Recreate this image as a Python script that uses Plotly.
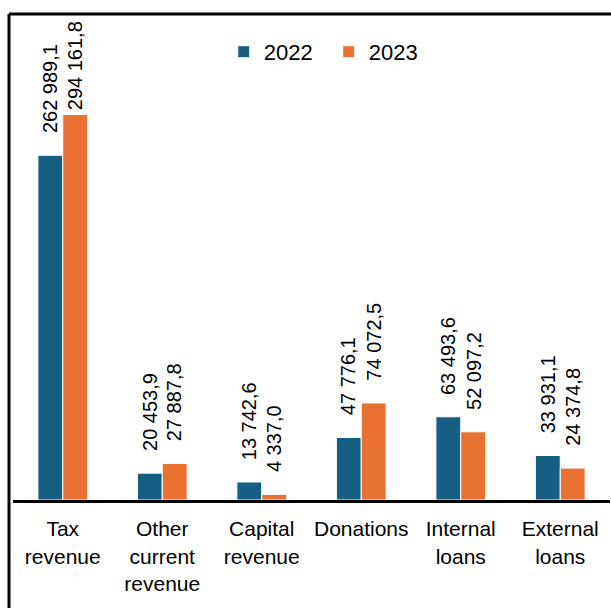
import plotly.graph_objects as go

# Revenue and financing sources, 2022 vs 2023
categories = ["Tax<br>revenue", "Other<br>current<br>revenue", "Capital<br>revenue",
              "Donations", "Internal<br>loans", "External<br>loans"]
values_2022 = [262989.1, 20453.9, 13742.6, 47776.1, 63493.6, 33931.1]
values_2023 = [294161.8, 27887.8, 4337.0, 74072.5, 52097.2, 24374.8]
series_names = ["2022", "2023"]

COLOR_2022 = "#156082"
COLOR_2023 = "#E97132"
FONT = "Liberation Sans, Arial, sans-serif"

W, H = 611, 608
M_L, M_R, M_T, M_B = 13, 1, 14, 108
Y_MAX = 370800
plot_w = W - M_L - M_R
plot_h = H - M_T - M_B
px_per_unit = plot_h / Y_MAX


def fmt(v):
    return f"{v:,.1f}".replace(",", " ").replace(".", ",")


fig = go.Figure()
for name, vals, col in [(series_names[0], values_2022, COLOR_2022),
                        (series_names[1], values_2023, COLOR_2023)]:
    fig.add_trace(go.Bar(
        name=name, x=categories, y=vals,
        marker=dict(color=col, line=dict(color="white", width=1)),
    ))

# rotated value labels above each bar
LABEL_LEN = 91  # approx rendered length of a label in px
annotations = []
for shift, vals in [(-12.5, values_2022), (12.5, values_2023)]:
    for cat, v in zip(categories, vals):
        bar_top = M_T + plot_h - v * px_per_unit
        gap = max(2, min(20, bar_top - 22 - LABEL_LEN))
        annotations.append(dict(
            x=cat, y=v, xref="x", yref="y", text=fmt(v), showarrow=False,
            textangle=-90, xanchor="center", yanchor="bottom",
            xshift=shift, yshift=gap,
            font=dict(family=FONT, size=20, color="black"),
        ))

left = -4 / plot_w
fig.update_layout(
    width=W, height=H,
    margin=dict(l=M_L, r=M_R, t=M_T, b=M_B),
    paper_bgcolor="white", plot_bgcolor="white",
    barmode="group", bargap=0.5, bargroupgap=0,
    showlegend=True,
    legend=dict(orientation="h", x=0.353, y=0.922, xanchor="left", yanchor="middle",
                font=dict(family=FONT, size=22, color="black"),
                entrywidth=60, bgcolor="rgba(0,0,0,0)"),
    xaxis=dict(showline=True, linecolor="black", linewidth=3, ticks="",
               tickfont=dict(family=FONT, size=21, color="black"),
               ticklabelstandoff=8,
               showgrid=False, zeroline=False),
    yaxis=dict(range=[0, Y_MAX], visible=False, showgrid=False, zeroline=False),
    annotations=annotations,
    shapes=[
        dict(type="line", xref="paper", yref="paper", x0=left, x1=1.2, y0=1, y1=1,
             line=dict(color="black", width=3)),
        dict(type="line", xref="paper", yref="paper", x0=left, x1=left, y0=1, y1=-0.5,
             line=dict(color="black", width=3)),
    ],
)

fig.write_html("out.html")
